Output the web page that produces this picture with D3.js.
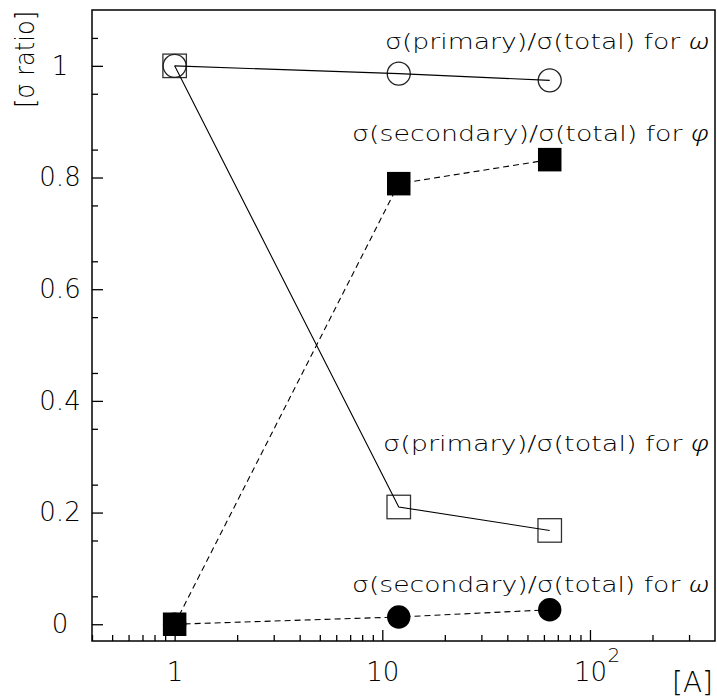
<!DOCTYPE html>
<html>
<head>
<meta charset="utf-8">
<script src="https://cdn.jsdelivr.net/npm/d3@7"></script>
<style>
  body { margin: 0; background: #fff; }
  svg text { font-family: "DejaVu Sans", "Liberation Sans", sans-serif; font-weight: 200; fill: #000; }
</style>
</head>
<body>
<svg id="graph" width="717" height="698"></svg>
<script>
// datos
var nucleos = [1, 12, 64];
var omegaPrim = [1.0, 0.986, 0.974];
var omegaSec = [0.0, 0.013, 0.026];
var phiPrim = [1.0, 0.21, 0.168];
var phiSec = [0.0, 0.789, 0.832];

var yTicks = [0, 0.2, 0.4, 0.6, 0.8, 1];
var xTicks = [1, 10, 100];
var xMenores = [0.4, 0.5, 0.6, 0.7, 0.8, 0.9, 2, 3, 4, 5, 6, 7, 8, 9, 20, 30, 40, 50, 60, 70, 80, 90, 200, 300];
var yMenores = [0.05, 0.15, 0.25, 0.35, 0.45, 0.55, 0.65, 0.75, 0.85, 0.95, 1.05];

var etiquetas = ["σ(primary)/σ(total) for ", "σ(secondary)/σ(total) for ", "σ(primary)/σ(total) for ", "σ(secondary)/σ(total) for "];
var simbolos = ["ω", "φ", "φ", "ω"];

function creaGrafica() {
    let svg = d3.select("#graph");
    var margin = { top: 10, right: 2, bottom: 57, left: 92 };
    var width = +svg.attr("width") - margin.left - margin.right;
    var height = +svg.attr("height") - margin.top - margin.bottom;
    var g = svg.append("g").attr("transform", "translate(" + margin.left + "," + margin.top + ")");

    var x = d3.scaleLog().domain([0.4, 400]).range([0, width]);
    var y = d3.scaleLinear().domain([-0.03, 1.1]).range([height, 0]);

    // ejes: marcas hacia adentro
    g.append("g").attr("class", "xmenor")
        .attr("transform", "translate(0," + height + ")")
        .call(d3.axisBottom(x).tickValues(xMenores).tickSize(-6).tickFormat(""));
    let xaxis = g.append("g").attr("class", "xaxis")
        .attr("transform", "translate(0," + height + ")")
        .call(d3.axisBottom(x).tickValues(xTicks).tickSize(-11).tickPadding(22).tickFormat(d => d == 100 ? "10" : d3.format("d")(d)));
    g.append("g").attr("class", "ymenor")
        .call(d3.axisLeft(y).tickValues(yMenores).tickSize(-6).tickFormat(""));
    let yaxis = g.append("g").attr("class", "yaxis")
        .call(d3.axisLeft(y).tickValues(yTicks).tickSize(-11).tickFormat(d3.format("")));

    g.selectAll(".domain").remove();
    g.selectAll(".tick line").attr("stroke", "#000").attr("stroke-width", 1.3);

    xaxis.selectAll("text").style("font-size", "26px");
    xaxis.selectAll(".tick").filter(d => d == 100)
        .append("text")
        .attr("x", 17).attr("y", 40)
        .attr("dy", "-0.95em")
        .attr("text-anchor", "start")
        .style("font-size", "20px")
        .text("2");
    yaxis.selectAll("text")
        .style("font-size", "26px")
        .attr("text-anchor", "middle")
        .attr("x", -32);

    // marco
    g.append("rect")
        .attr("width", width).attr("height", height)
        .attr("fill", "none").attr("stroke", "#000").attr("stroke-width", 1.5);

    // titulos de ejes
    svg.append("text")
        .attr("transform", "translate(34,11) rotate(-90)")
        .attr("text-anchor", "end")
        .attr("textLength", 97)
        .attr("lengthAdjust", "spacingAndGlyphs")
        .style("font-size", "27px")
        .text("[σ ratio]");
    svg.append("text")
        .attr("x", 713).attr("y", 692)
        .attr("text-anchor", "end")
        .style("font-size", "28px")
        .text("[A]");

    var linea = d3.line().x((d, i) => x(nucleos[i])).y(d => y(d));
    var lado = 23.5;

    // series con marcadores llenos (linea debajo)
    function serieLlena(vals, tipo) {
        g.append("path").datum(vals)
            .attr("d", linea)
            .attr("fill", "none").attr("stroke", "#000").attr("stroke-width", 1.1)
            .attr("stroke-dasharray", "6,4");
        let pts = g.append("g").selectAll(".p").data(vals).enter();
        if (tipo == "circulo") {
            pts.append("circle")
                .attr("cx", (d, i) => x(nucleos[i]))
                .attr("cy", d => y(d))
                .attr("r", 11.7)
                .attr("fill", "#000");
        } else {
            pts.append("rect")
                .attr("x", (d, i) => x(nucleos[i]) - lado / 2)
                .attr("y", d => y(d) - lado / 2)
                .attr("width", lado).attr("height", lado)
                .attr("fill", "#000");
        }
    }
    // series con marcadores vacios (linea encima)
    function serieVacia(vals, tipo) {
        let pts = g.append("g").selectAll(".p").data(vals).enter();
        if (tipo == "circulo") {
            pts.append("circle")
                .attr("cx", (d, i) => x(nucleos[i]))
                .attr("cy", d => y(d))
                .attr("r", 11.5)
                .attr("fill", "none").attr("stroke", "#222").attr("stroke-width", 1.3);
        } else {
            pts.append("rect")
                .attr("x", (d, i) => x(nucleos[i]) - lado / 2)
                .attr("y", d => y(d) - lado / 2)
                .attr("width", lado).attr("height", lado)
                .attr("fill", "none").attr("stroke", "#333").attr("stroke-width", 1.3);
        }
        g.append("path").datum(vals)
            .attr("d", linea)
            .attr("fill", "none").attr("stroke", "#000").attr("stroke-width", 1.1);
    }

    serieLlena(omegaSec, "circulo");
    serieLlena(phiSec, "cuadro");
    serieVacia(phiPrim, "cuadro");
    serieVacia(omegaPrim, "circulo");

    // rotulos de las series
    var rotulos = [
        { y: 49, x0: 385 },
        { y: 141, x0: 352 },
        { y: 451, x0: 383 },
        { y: 592, x0: 352 }
    ];
    rotulos.forEach((r, i) => {
        let t = svg.append("text")
            .attr("x", r.x0).attr("y", r.y)
            .attr("textLength", 709 - r.x0)
            .attr("lengthAdjust", "spacingAndGlyphs")
            .style("font-size", "21px");
        t.append("tspan").text(etiquetas[i]);
        t.append("tspan")
            .style("font-family", "'Noto Sans', 'Open Sans', sans-serif")
            .style("font-weight", "300")
            .style("font-style", "italic")
            .text(simbolos[i]);
    });
}

creaGrafica();
</script>
</body>
</html>
